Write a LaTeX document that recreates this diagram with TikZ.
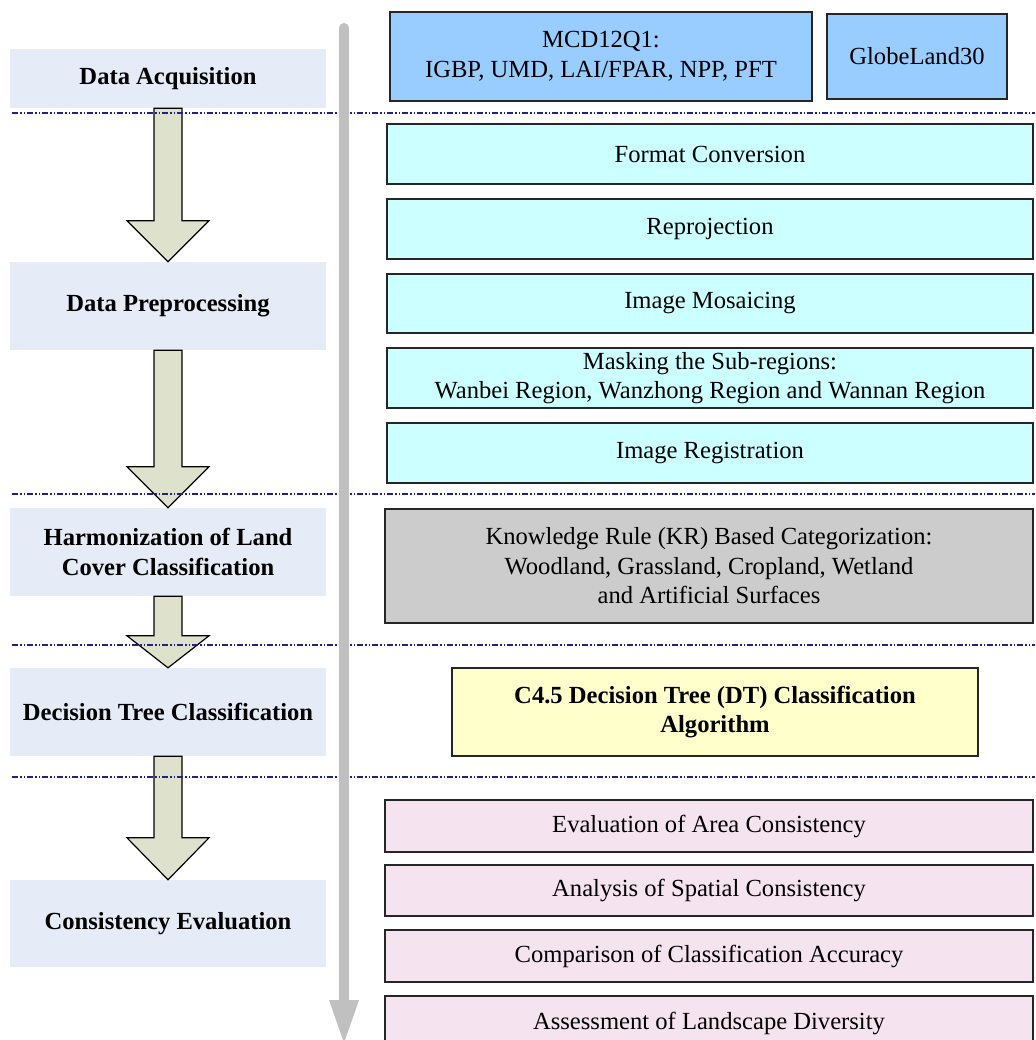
\documentclass[tikz,border=0pt]{standalone}
\usepackage{fontspec}
\setmainfont{Liberation Serif}
\usetikzlibrary{calc}
\definecolor{stagefill}{HTML}{E6ECF7}
\definecolor{arrowfill}{HTML}{DEE1CB}
\definecolor{axisgray}{HTML}{C0C0C0}
\definecolor{sepblue}{HTML}{202088}
\definecolor{srcblue}{HTML}{99CCFF}
\definecolor{cyanfill}{HTML}{CCFFFF}
\definecolor{grayfill}{HTML}{CCCCCC}
\definecolor{yellowfill}{HTML}{FFFFCC}
\definecolor{pinkfill}{HTML}{F6E3F0}
\newcommand\bigarrow[3]{%
  \path let \p1=(#1.south), \p2=(#2.north) in
    [arrowshape] (\x1-14,\y1) -- (\x1-14,\y2+#3) -- (\x1-41,\y2+#3) -- (\x1,\y2)
    -- (\x1+41,\y2+#3) -- (\x1+14,\y2+#3) -- (\x1+14,\y1) -- cycle;}
\begin{document}
\begin{tikzpicture}[x=1pt,y=-1pt,
  every node/.style={font=\fontsize{24.6}{29.5}\selectfont, align=center, inner sep=0pt},
  stage/.style={fill=stagefill, minimum width=316, font=\fontsize{24.6}{29.5}\selectfont\bfseries},
  rbox/.style={draw=black!85, line width=1.2pt},
  arrowshape/.style={draw=black, line width=1.2pt, fill=arrowfill, line join=miter},
  sepline/.style={draw=sepblue, line width=1.3pt, dash pattern=on 6pt off 2pt on 1.5pt off 2pt on 1.5pt off 2pt},
  axis/.style={draw=axisgray, line width=10pt, line cap=round}]
\useasboundingbox (0,0) rectangle (1035,1040);
\clip (0,0) rectangle (1035,1040);
% stage boxes
\node[stage, minimum height=59] (acq) at (168,78.5) {Data Acquisition};
\node[stage, minimum height=88] (pre) at (168,306) {Data Preprocessing};
\node[stage, minimum height=88] (harm) at (168,552) {Harmonization of Land\\Cover Classification};
\node[stage, minimum height=88] (dt) at (168,712) {Decision Tree Classification};
\node[stage, minimum height=87] (cons) at (168,923.5) {Consistency Evaluation};
% big arrows
\bigarrow{acq}{pre}{41}
\bigarrow{pre}{harm}{41}
\bigarrow{harm}{dt}{32}
\bigarrow{dt}{cons}{42}
% separators
\foreach \yy in {113,494,645,777} {
  \path[sepline] (12,\yy) -- (1035,\yy);
}
% axis arrow
\coordinate (axtop) at (344,28);
\coordinate (axhead) at (344,1000);
\coordinate (axtip) at (344,1043);
\path[axis] (axtop) -- (axhead);
\fill[axisgray] ($(axhead)+(-15,0)$) -- ($(axhead)+(15,0)$) -- (axtip) -- cycle;
% right boxes
\node[rbox, fill=srcblue, minimum width=422, minimum height=89] (mcd) at (601,56.5) {MCD12Q1:\\IGBP, UMD, LAI/FPAR, NPP, PFT};
\node[rbox, fill=srcblue, minimum width=180, minimum height=85] (glc) at (917,56.5) {GlobeLand30};
\node[rbox, fill=cyanfill, minimum width=646, minimum height=60] (fc) at (710,154) {Format Conversion};
\node[rbox, fill=cyanfill, minimum width=646, minimum height=60] (rp) at (710,229) {Reprojection};
\node[rbox, fill=cyanfill, minimum width=646, minimum height=59] (im) at (710,303.5) {Image Mosaicing};
\node[rbox, fill=cyanfill, minimum width=646, minimum height=60] (mask) at (710,378) {Masking the Sub-regions:\\Wanbei Region, Wanzhong Region and Wannan Region};
\node[rbox, fill=cyanfill, minimum width=646, minimum height=60] (ir) at (710,453) {Image Registration};
\node[rbox, fill=grayfill, minimum width=648, minimum height=114] (kr) at (709,566) {Knowledge Rule (KR) Based Categorization:\\Woodland, Grassland, Cropland, Wetland\\and Artificial Surfaces};
\node[rbox, fill=yellowfill, minimum width=526, minimum height=88, font=\fontsize{24.6}{29.5}\selectfont\bfseries] (c45) at (715,712) {C4.5 Decision Tree (DT) Classification\\Algorithm};
\node[rbox, fill=pinkfill, minimum width=648, minimum height=52] (ev) at (709,826) {Evaluation of Area Consistency};
\node[rbox, fill=pinkfill, minimum width=648, minimum height=51] (an) at (709,890.5) {Analysis of Spatial Consistency};
\node[rbox, fill=pinkfill, minimum width=648, minimum height=52] (cp) at (709,956) {Comparison of Classification Accuracy};
\node[rbox, fill=pinkfill, minimum width=648, minimum height=54] (as) at (709,1023) {Assessment of Landscape Diversity};
\end{tikzpicture}
\end{document}
